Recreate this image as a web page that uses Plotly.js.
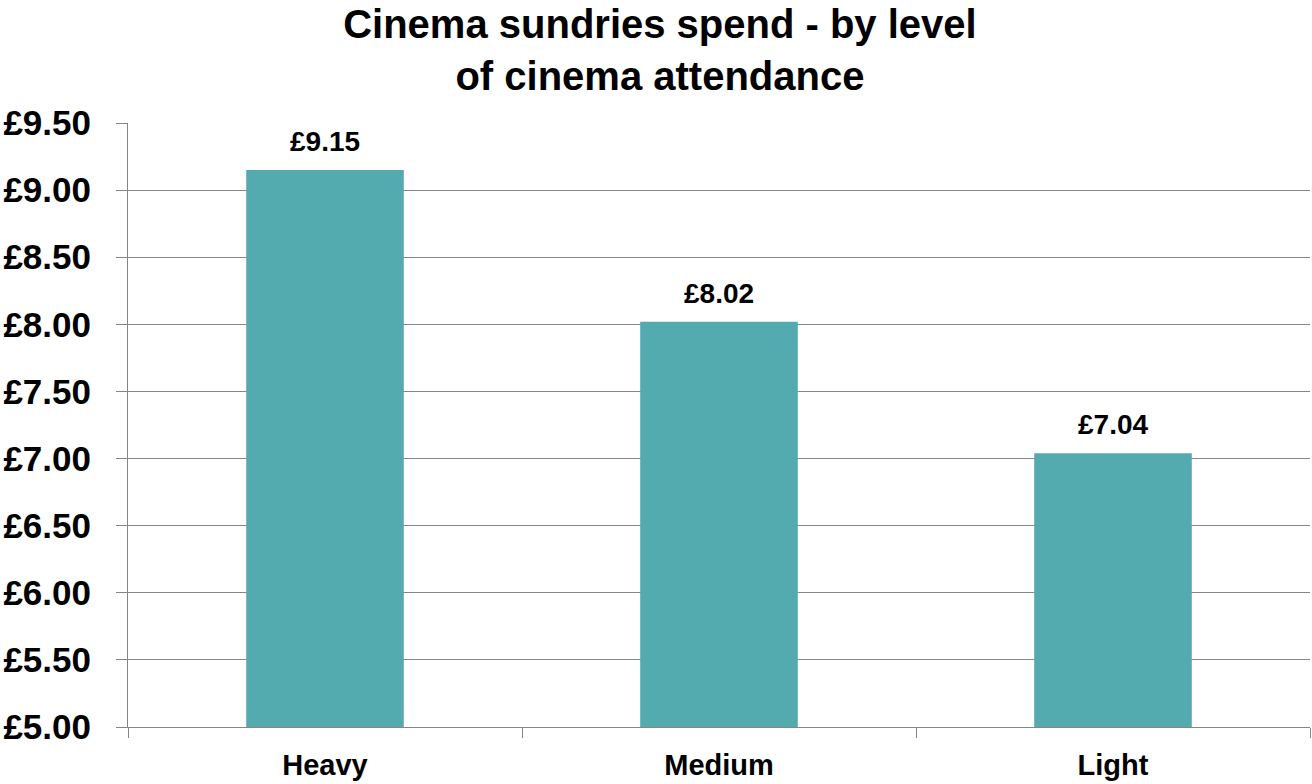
<!DOCTYPE html>
<html>
<head>
<meta charset="utf-8">
<script src="https://cdn.plot.ly/plotly-3.0.1.min.js"></script>
<style>html,body{margin:0;padding:0;background:#fff;}#chart{width:1312px;height:784px;}</style>
</head>
<body>
<div id="chart"></div>
<script>
const categories = ["Heavy", "Medium", "Light"];
const spend = [9.15, 8.02, 7.04];
const spendLabels = ["£9.15", "£8.02", "£7.04"];
const yTickVals = [5.0, 5.5, 6.0, 6.5, 7.0, 7.5, 8.0, 8.5, 9.0, 9.5];
const yTickText = ["£5.00", "£5.50", "£6.00", "£6.50", "£7.00", "£7.50", "£8.00", "£8.50", "£9.00", "£9.50"];

const font = "Liberation Sans, Arial, sans-serif";

const trace = {
  type: "bar",
  x: categories,
  y: spend,
  base: 0,
  marker: {color: "#53abb0"},
  hoverinfo: "none"
};

const annotations = categories.map((c, i) => ({
  x: c, y: spend[i], xref: "x", yref: "y",
  text: "<b>" + spendLabels[i] + "</b>",
  showarrow: false, yanchor: "bottom", yshift: 11,
  font: {family: font, size: 28, color: "#000"}
}));

const layout = {
  width: 1312, height: 784,
  margin: {l: 128, r: 2, t: 123, b: 57},
  paper_bgcolor: "#fff", plot_bgcolor: "#fff",
  showlegend: false,
  bargap: 0.6,
  title: {
    text: "<b>Cinema sundries spend - by level<br>of cinema attendance</b>",
    font: {family: font, size: 40, color: "#000"},
    x: 0.503, xanchor: "center", y: 0.952, yanchor: "top", yref: "container"
  },
  xaxis: {
    type: "category",
    showgrid: false,
    showline: true, linecolor: "#868686", linewidth: 1,
    ticks: "outside", tickson: "boundaries", ticklen: 10, tickcolor: "#868686",
    ticklabelstandoff: 12,
    tickfont: {family: font, size: 29, color: "#000", weight: "bold"},
    fixedrange: true
  },
  yaxis: {
    range: [5, 9.5],
    tickvals: yTickVals, ticktext: yTickText,
    showgrid: true, gridcolor: "#868686", gridwidth: 1,
    showline: true, linecolor: "#868686", linewidth: 1,
    ticks: "outside", ticklen: 11, tickcolor: "#868686",
    ticklabelstandoff: 18,
    tickfont: {family: font, size: 35, color: "#000", weight: "bold"},
    zeroline: false,
    fixedrange: true
  },
  annotations: annotations
};

Plotly.newPlot("chart", [trace], layout, {displayModeBar: false, staticPlot: true});
</script>
</body>
</html>
